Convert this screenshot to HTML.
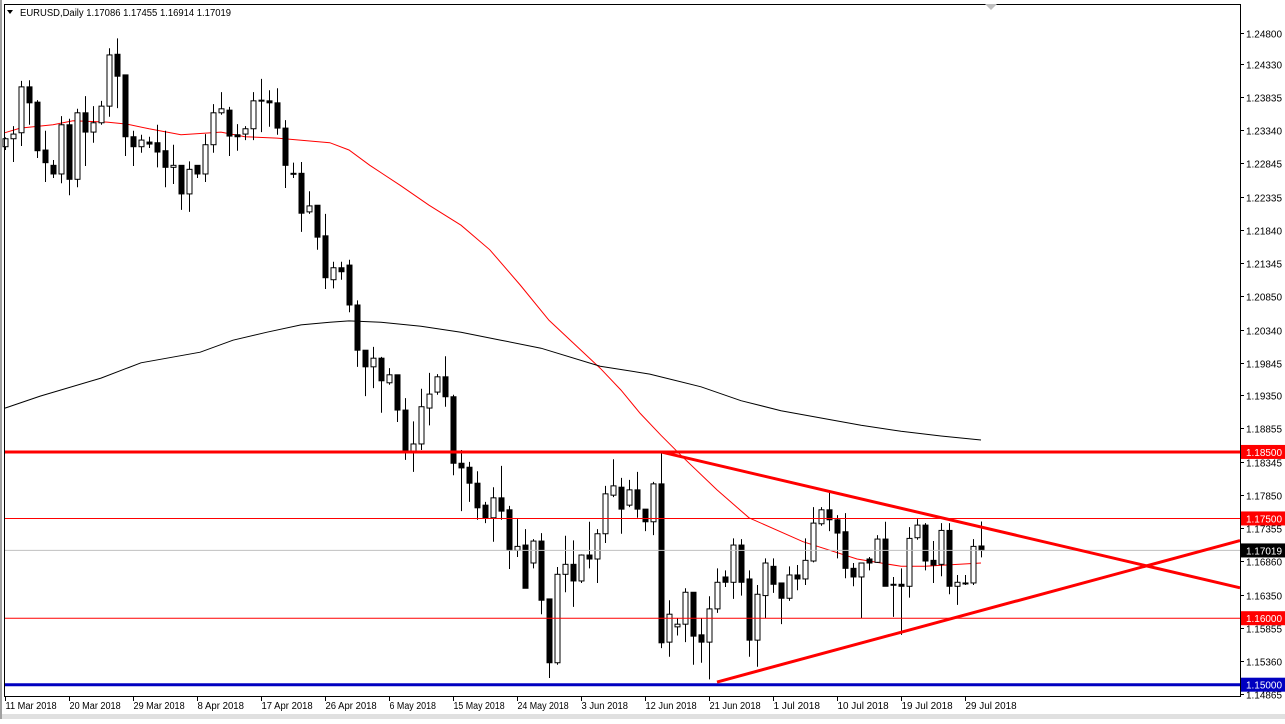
<!DOCTYPE html>
<html><head><meta charset="utf-8"><style>
html,body{margin:0;padding:0;background:#fff;}
body{width:1285px;height:719px;overflow:hidden;position:relative;font-family:"Liberation Sans",sans-serif;}
svg text{font-family:"Liberation Sans",sans-serif;font-size:10px;}
</style></head><body>
<svg id="chart" width="1285" height="719" viewBox="0 0 1285 719" xmlns="http://www.w3.org/2000/svg">
<rect x="0" y="0" width="1285" height="719" fill="#fff"/>
<rect x="0" y="714" width="1285" height="5" fill="#e0e0e0"/>
<rect x="0" y="0" width="2" height="719" fill="#a0a0a0"/>
<g id="grid"></g>
<g id="ma"></g>
<g id="candles"></g>
<g id="levels"></g>
<g id="axes"></g>
<text x="20" y="16" textLength="211" lengthAdjust="spacingAndGlyphs">EURUSD,Daily  1.17086 1.17455 1.16914 1.17019</text>
<path d="M7,10 L13,10 L10,14 Z" fill="#000"/>
<path d="M985,4 L997,4 L991,10 Z" fill="#c0c0c0"/>
</svg>
<script>
// ---- data ----
const opens=[1.2309,1.2321,1.2330,1.2399,1.2376,1.2304,1.2281,1.2268,1.2342,1.2260,1.2360,1.2331,1.2345,1.2370,1.2448,1.2417,1.2324,1.2309,1.2316,1.2315,1.2303,1.2278,1.2281,1.2238,1.2281,1.2268,1.2312,1.2360,1.2364,1.2327,1.2328,1.2336,1.2378,1.2378,1.2375,1.2337,1.2269,1.2269,1.2211,1.2221,1.2175,1.2109,1.2127,1.2131,1.2071,1.2003,1.1978,1.1991,1.1954,1.1966,1.1913,1.1850,1.1862,1.1916,1.1940,1.1963,1.1933,1.1833,1.1827,1.1803,1.1770,1.1751,1.1781,1.1763,1.1702,1.1710,1.1683,1.1716,1.1629,1.1533,1.1666,1.1681,1.1656,1.1695,1.1689,1.1727,1.1785,1.1797,1.1770,1.1793,1.1764,1.1745,1.1802,1.1564,1.1587,1.1591,1.1639,1.1575,1.1564,1.1614,1.1662,1.1654,1.1710,1.1659,1.1567,1.1634,1.1678,1.1653,1.1630,1.1665,1.1659,1.1686,1.1742,1.1763,1.1748,1.1730,1.1675,1.1662,1.1689,1.1684,1.1719,1.1651,1.1651,1.1648,1.1721,1.1740,1.1687,1.1681,1.1732,1.1648,1.1653,1.1653,1.17086];
const highs=[1.2323,1.2340,1.2408,1.2409,1.2379,1.2333,1.2289,1.2355,1.2351,1.2366,1.2385,1.2370,1.2378,1.2457,1.2472,1.2417,1.2333,1.2327,1.2324,1.2342,1.2333,1.2312,1.2281,1.2287,1.2281,1.2328,1.2373,1.2391,1.2369,1.2343,1.2340,1.2391,1.2411,1.2394,1.2397,1.2349,1.2285,1.2286,1.2242,1.2221,1.2208,1.2136,1.2136,1.2139,1.2078,1.2003,1.2008,1.1993,1.1976,1.1966,1.1931,1.1896,1.1945,1.1969,1.1967,1.1994,1.1936,1.1853,1.1835,1.1821,1.1775,1.1797,1.1829,1.1769,1.1749,1.1734,1.1719,1.1728,1.1629,1.1677,1.1724,1.1717,1.1696,1.1745,1.1734,1.1799,1.1839,1.1811,1.1808,1.1820,1.1764,1.1805,1.1848,1.1627,1.1600,1.1645,1.1639,1.1600,1.1633,1.1675,1.1672,1.1720,1.1719,1.1672,1.1650,1.1690,1.1690,1.1653,1.1678,1.1680,1.1720,1.1767,1.1767,1.1790,1.1755,1.1758,1.1683,1.1683,1.1692,1.1725,1.1745,1.1662,1.1675,1.1737,1.1749,1.1743,1.1716,1.1743,1.1743,1.1665,1.1665,1.1719,1.17455];
const lows=[1.2304,1.2286,1.2310,1.2342,1.2292,1.2256,1.2262,1.2254,1.2236,1.2248,1.2280,1.2315,1.2342,1.2354,1.2367,1.2295,1.2280,1.2300,1.2307,1.2278,1.2248,1.2253,1.2214,1.2211,1.2262,1.2256,1.2300,1.2357,1.2295,1.2303,1.2319,1.2319,1.2331,1.2339,1.2327,1.2247,1.2262,1.2181,1.2208,1.2154,1.2095,1.2096,1.2109,1.2060,1.1978,1.1934,1.1946,1.1909,1.1951,1.1895,1.1838,1.1820,1.1853,1.1890,1.1936,1.1918,1.1815,1.1761,1.1775,1.1748,1.1743,1.1715,1.1748,1.1674,1.1692,1.1645,1.1675,1.1606,1.1510,1.1530,1.1639,1.1617,1.1653,1.1675,1.1653,1.1713,1.1782,1.1727,1.1767,1.1751,1.1731,1.1725,1.1555,1.1542,1.1574,1.1564,1.1530,1.1533,1.1508,1.1608,1.1647,1.1629,1.1634,1.1542,1.1527,1.1600,1.1638,1.1591,1.1626,1.1642,1.1650,1.1684,1.1739,1.1731,1.1690,1.1660,1.1648,1.1600,1.1672,1.1683,1.1648,1.1602,1.1575,1.1631,1.1718,1.1672,1.1653,1.1663,1.1636,1.1620,1.1650,1.1650,1.16914];
const closes=[1.2321,1.2328,1.2399,1.2375,1.2303,1.2285,1.2268,1.2342,1.2260,1.2360,1.2331,1.2345,1.2370,1.2447,1.2415,1.2324,1.2309,1.2319,1.2313,1.2301,1.2278,1.2281,1.2238,1.2275,1.2268,1.2312,1.2360,1.2366,1.2325,1.2324,1.2336,1.2378,1.2379,1.2375,1.2337,1.2281,1.2268,1.2209,1.2220,1.2173,1.2112,1.2127,1.2121,1.2071,1.2003,1.1978,1.1991,1.1957,1.1966,1.1913,1.1850,1.1862,1.1918,1.1937,1.1963,1.1933,1.1833,1.1826,1.1803,1.1766,1.1751,1.1781,1.1761,1.1702,1.1708,1.1645,1.1716,1.1627,1.1533,1.1666,1.1681,1.1656,1.1695,1.1689,1.1727,1.1787,1.1799,1.1764,1.1793,1.1764,1.1745,1.1802,1.1563,1.1606,1.1591,1.1639,1.1573,1.1564,1.1614,1.1654,1.1654,1.1710,1.1654,1.1567,1.1636,1.1683,1.1651,1.1630,1.1665,1.1659,1.1687,1.1743,1.1763,1.1748,1.1728,1.1675,1.1662,1.1683,1.1683,1.1719,1.1648,1.1651,1.1648,1.1720,1.1740,1.1686,1.1680,1.1732,1.1648,1.1654,1.1653,1.1708,1.17019];
const ma50Bars=[0,1.9,6,8.5,12.75,15.25,18,22,27,30,34,40.6,43,45.6,49.4,53,57,60.6,64.4,68,72,74.4,77,79.4,82,84.75,89,93,99.75,106.5,112,115,122];
const ma50Vals=[1.2330,1.2337,1.2342,1.2348,1.2346,1.2343,1.2336,1.2327,1.2331,1.2324,1.2322,1.2315,1.2304,1.2281,1.2251,1.2221,1.2191,1.2154,1.2101,1.2048,1.2003,1.1976,1.1943,1.1908,1.1875,1.1842,1.1793,1.1751,1.1715,1.1689,1.1678,1.1678,1.1683];
const ma200Bars=[0,4.4,12,17,24.4,28.5,32.75,37,40.6,43,47,52,57,62,67,74.4,80.6,87,92,97,102,107,112,117,122];
const ma200Vals=[1.1916,1.1934,1.1961,1.1984,1.2000,1.2018,1.2030,1.2041,1.2045,1.2047,1.2045,1.2039,1.2030,1.2018,1.2006,1.1979,1.1967,1.1948,1.1927,1.1912,1.1901,1.1890,1.1881,1.1874,1.1868];
const priceTicks=[1.24800,1.24330,1.23835,1.23340,1.22845,1.22335,1.21840,1.21345,1.20850,1.20340,1.19845,1.19350,1.18855,1.18345,1.17850,1.17355,1.16860,1.16350,1.15855,1.15360,1.14865];
const dateLabels=["11 Mar 2018","20 Mar 2018","29 Mar 2018","8 Apr 2018","17 Apr 2018","26 Apr 2018","6 May 2018","15 May 2018","24 May 2018","3 Jun 2018","12 Jun 2018","21 Jun 2018","1 Jul 2018","10 Jul 2018","19 Jul 2018","29 Jul 2018"];
const levelPrices=[1.18500,1.17500,1.16000,1.15000];
const currentPrice=1.17019;
const upperTrend=[82,1.1850,123.1,1.1734];
const lowerTrend=[89,1.1504,123.1,1.1615];

// ---- axes ----
const PL=4,PT=4,PR=1240,PB=696;
function y(p){return 33+(1.248-p)*6650;}
function x(i){return 5+8*i;}
const NS="http://www.w3.org/2000/svg";
function mk(tag,attrs,parent){const e=document.createElementNS(NS,tag);for(const k in attrs)e.setAttribute(k,attrs[k]);parent.appendChild(e);return e;}
const gMa=document.getElementById('ma'),gC=document.getElementById('candles'),gL=document.getElementById('levels'),gA=document.getElementById('axes');

for(let i=0;i<opens.length;i++){
  const o=opens[i],h=highs[i],l=lows[i],c=closes[i],cx=x(i)+0.5;
  const g=mk('g',{},gC);
  
  
  mk('line',{x1:cx,x2:cx,y1:y(h),y2:y(l),stroke:'#000','stroke-width':1},g);
  const top=Math.min(y(o),y(c)),bh=Math.max(1,Math.abs(y(o)-y(c)));
  if(c<o) mk('rect',{x:cx-2.5,y:top,width:5,height:bh,fill:'#000',stroke:'#000','stroke-width':1},g);
  else mk('rect',{x:cx-2.5,y:top,width:5,height:bh,fill:'#fff',stroke:'#000','stroke-width':1},g);
}
function pl(bars,vals,col,name){
  let d='';for(let k=0;k<bars.length;k++)d+=(k?'L':'M')+x(bars[k]).toFixed(1)+','+y(vals[k]).toFixed(1);
  const p=mk('path',{d:d,fill:'none',stroke:col,'stroke-width':1},gMa);
  
  
}
pl(ma50Bars,ma50Vals,'#ff0000','moving-average-fast');
pl(ma200Bars,ma200Vals,'#000000','moving-average-slow');

const lvlCols=['#ff0000','#ff0000','#ff0000','#0000c0'],lvlW=[3,1,1,3];
const cur=mk('line',{x1:PL,x2:PR,y1:y(currentPrice),y2:y(currentPrice),stroke:'#c0c0c0','stroke-width':1},gL);


for(let k=0;k<levelPrices.length;k++){
  const ln=mk('line',{x1:PL,x2:PR,y1:y(levelPrices[k]),y2:y(levelPrices[k]),stroke:lvlCols[k],'stroke-width':lvlW[k]},gL);
  
  
}
function trend(t,name){
  const x1=x(t[0]),y1=y(t[1]),x2=x(t[2]),y2=y(t[3]);
  const s=(y2-y1)/(x2-x1),ye=y1+s*(PR-x1);
  const ln=mk('line',{x1:x1,y1:y1,x2:PR,y2:ye,stroke:'#ff0000','stroke-width':3},gL);
  
  
}
trend(upperTrend,'upper-trendline');
trend(lowerTrend,'lower-trendline');

const fr=mk('rect',{x:PL+0.5,y:PT+0.5,width:PR-PL,height:PB-PT,fill:'none',stroke:'#000','stroke-width':1},gA);


for(const p of priceTicks){
  const yy=Math.round(y(p))+0.5;
  mk('line',{x1:PR,x2:PR+4,y1:yy,y2:yy,stroke:'#000'},gA);
  const t=mk('text',{x:1246,y:yy+4,fill:'#000',textLength:36,lengthAdjust:'spacingAndGlyphs'},gA);
  t.textContent=p.toFixed(5);
  
  
}
function tag(p,bg,name){
  const yy=y(p);
  const r=mk('rect',{x:PR+1,y:yy-7,width:44,height:14,fill:bg},gA);
  
  
  const t=mk('text',{x:1246,y:yy+4,fill:'#fff',textLength:36,lengthAdjust:'spacingAndGlyphs'},gA);
  t.textContent=p.toFixed(5);
  
  
}
for(let k=0;k<levelPrices.length;k++) tag(levelPrices[k],lvlCols[k],'level-tag-'+k);
tag(currentPrice,'#000','current-price-tag');
for(let k=0;k<dateLabels.length;k++){
  const xx=x(k*8)+0.5;
  mk('line',{x1:xx,x2:xx,y1:PB,y2:PB+5,stroke:'#000'},gA);
  const w=dateLabels[k].length*4.65;
  const t=mk('text',{x:xx,y:709,fill:'#000',textLength:w.toFixed(1),lengthAdjust:'spacingAndGlyphs'},gA);
  t.textContent=dateLabels[k];
  
  
}
</script>
</body></html>
